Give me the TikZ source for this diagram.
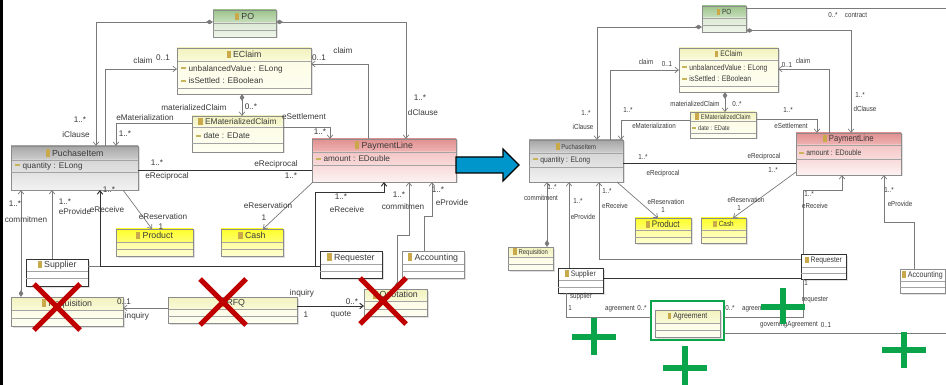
\documentclass[tikz,border=0pt]{standalone}
\usepackage{fontspec}
\setmainfont{Liberation Sans}
\newfontfamily\nfont[FakeStretch=0.85]{Liberation Sans}
\usetikzlibrary{arrows.meta}
\definecolor{txt}{HTML}{3A3A3A}
\definecolor{lc}{HTML}{7A7A7A}
\definecolor{dk}{HTML}{333333}
\definecolor{fr}{HTML}{8C8C8C}
\definecolor{iconc}{HTML}{C9A94A}
\definecolor{attrc}{HTML}{C8B45A}
\definecolor{grntop}{HTML}{9DC48C}\definecolor{grnmid}{HTML}{C9DFBE}
\definecolor{grnbot}{HTML}{DCEAD4}\definecolor{grnend}{HTML}{EEF5EA}
\definecolor{pyltop}{HTML}{F2F2C0}\definecolor{pylmid}{HTML}{FAFAD8}
\definecolor{pylbot}{HTML}{FCFCE6}\definecolor{pylend}{HTML}{FEFEF2}
\definecolor{yeltop}{HTML}{FFFF2A}\definecolor{yelmid}{HTML}{FFFF70}
\definecolor{yelbot}{HTML}{FFFF9E}\definecolor{yelend}{HTML}{FFFFD2}
\definecolor{grytop}{HTML}{A6A6A6}\definecolor{grymid}{HTML}{CFCFCF}
\definecolor{grybot}{HTML}{D6D6D6}\definecolor{gryend}{HTML}{F2F2F2}
\definecolor{redtop}{HTML}{E09090}\definecolor{redmid}{HTML}{F0B4B4}
\definecolor{redbot}{HTML}{F4C6C6}\definecolor{redend}{HTML}{FDF2F2}
\definecolor{whttop}{HTML}{FFFFFF}\definecolor{whtmid}{HTML}{FFFFFF}
\definecolor{whtbot}{HTML}{FFFFFF}\definecolor{whtend}{HTML}{FFFFFF}
\definecolor{whgtop}{HTML}{FFFFFF}\definecolor{whgmid}{HTML}{FFFFFF}
\definecolor{whgbot}{HTML}{FFFFFF}\definecolor{whgend}{HTML}{FFFFFF}
\definecolor{blueA}{HTML}{0096CC}
\definecolor{redx}{HTML}{C00000}
\definecolor{grnp}{HTML}{0AA54A}
\newcommand\fs[1]{\fontsize{#1}{#1}\selectfont}
\newcommand\cico{\textcolor{iconc}{\rule[-0.1em]{0.5em}{0.9em}}\hspace{0.25em}}
\newcommand\aico{\textcolor{attrc}{\rule[0.22em]{0.6em}{0.3em}}\hspace{0.3em}}
\tikzset{
 frm/.style={draw=fr, line width=0.7, outer sep=0, inner sep=0},
 grnframe/.style={frm}, pylframe/.style={frm}, yelframe/.style={frm},
 gryframe/.style={frm}, redframe/.style={frm}, whgframe/.style={frm},
 whtframe/.style={frm, draw=dk, line width=0.9},
 dvd/.style={draw=fr!80, line width=0.5},
 shd/.style={fill=black!12},
 ttl/.style={inner sep=0, text=txt},
 att/.style={inner sep=0, text=txt, anchor=west},
 lbl/.style={inner sep=0, text=txt},
 gc/.style={draw=lc, line width=0.7},
 bc/.style={draw=dk, line width=0.95},
 ar/.style={-{Straight Barb[length=3.5pt,width=5.5pt]}},
 dar/.style={{Diamond[length=7pt,width=4.5pt]}-{Straight Barb[length=3.5pt,width=5.5pt]}},
 xx/.style={draw=redx, line width=5},
 pl/.style={draw=grnp, line width=6},
}
\newcommand\umlclass[8]{%
 \fill[shd] ({#3+1.5},{#4+1.5}) rectangle ({#5+1.5},{#6+1.5});
 \shade[top color=#2top, bottom color=#2mid] (#3,#4) rectangle (#5,#7);
 \shade[top color=#2bot, bottom color=#2end] (#3,#7) rectangle (#5,#6);
 \draw[dvd] (#3,#7) -- (#5,#7);
 \node[#2frame, anchor=north west, minimum width=#5-#3, minimum height=#6-#4] (#1) at (#3,#4) {};
 \node[ttl] (#1t) at ({(#3+#5)/2},{(#4+#7)/2}) {\cico #8};
}
\newcommand\dv[3]{\draw[dvd] (#1,#3) -- (#2,#3);}
\newcommand\att[4]{\node[att] (#1) at (#2,#3) {\aico #4};}
\newcommand\lb[4]{\node[lbl] (#1) at (#2,#3) {#4};}
\begin{document}
\begin{tikzpicture}[x=1pt,y=-1pt]
\useasboundingbox (0,0) rectangle (946,385);
\fill[white] (0,0) rectangle (946,385);
\draw[line width=3] (1.5,0) -- (1.5,385);
% ================= LEFT =================
\begin{scope}[ttl/.append style={font=\fs{8.8}}, att/.append style={font=\fs{8.2}}, lbl/.append style={font=\fs{8.2}}]
\umlclass{po}{grn}{213}{10}{276}{37}{23}{PO}\dv{213}{276}{30}
\umlclass{ecl}{pyl}{177}{48}{311}{94}{61}{EClaim}\dv{177}{311}{88}
\att{a1}{181}{69}{unbalancedValue : ELong}
\att{a2}{181}{81}{isSettled : EBoolean}
\umlclass{emc}{pyl}{192}{116}{283}{152}{127}{\fs{8.3}EMaterializedClaim}\dv{192}{283}{143}
\att{a3}{196}{136}{date : EDate}
\umlclass{pi}{gry}{11}{146}{138}{190}{160}{PuchaseItem}\dv{11}{138}{172}
\att{a4}{15}{166}{quantity : ELong}
\umlclass{pl}{red}{312}{139}{456}{182}{152}{PaymentLine}\dv{312}{456}{165}
\att{a5}{316}{159}{amount : EDouble}
\umlclass{prd}{yel}{116}{229}{193}{256}{242}{Product}\dv{116}{193}{249}
\umlclass{csh}{yel}{221}{229}{283}{256}{242}{Cash}\dv{221}{283}{249}
\umlclass{sup}{wht}{26}{259}{88}{286}{271}{Supplier}\dv{26}{88}{278}
\umlclass{req}{wht}{320}{251}{382}{278}{264}{Requester}\dv{320}{382}{271}
\umlclass{acc}{whg}{402}{251}{464}{278}{264}{Accounting}\dv{402}{464}{271}
\umlclass{rqs}{pyl}{11}{297}{123}{326}{310}{Requisition}\dv{11}{123}{318}
\umlclass{rfq}{pyl}{168}{297}{297}{323}{309}{RFQ}\dv{168}{297}{316}
\umlclass{quo}{pyl}{364}{289}{427}{316}{301}{Quotation}\dv{364}{427}{309}
\coordinate (jl) at (315,266);
\draw[gc,dar] (po.west |- 0,22) -- (96,22) -- (pi.north -| 96,0);
\draw[gc,dar] (po.east |- 0,22) -- (406,22) -- (pl.north -| 406,0);
\draw[gc,ar] (pi.north -| 105,0) -- (105,69) -- (ecl.west |- 0,69);
\draw[gc,ar] (pl.north -| 368,0) -- (368,64) -- (ecl.east |- 0,64);
\draw[gc,dar] (ecl.south -| 242,0) -- (emc.north -| 242,0);
\draw[gc,ar] (emc.west |- 0,123) -- (116,123) -- (pi.north -| 116,0);
\draw[gc,ar] (emc.east |- 0,127) -- (330,127) -- (pl.north -| 330,0);
\draw[bc] (pi.east |- 0,170) -- (pl.west |- 0,170);
\draw[gc,ar] (pi.south -| 123,0) -- (prd.north -| 152,0);
\draw[gc,ar] (pl.south -| 313,0) -- (csh.north -| 263,0);
\draw[gc,dar] (rqs.north -| 21,0) -- (pi.south -| 21,0);
\draw[gc,ar] (sup.north -| 52,0) -- (pi.south -| 52,0);
\draw[gc] (sup.east |- 0,266) -- (100,266);
\draw[bc,ar] (req.west |- 0,266) -- (100,266) -- (pi.south -| 100,0);
\draw[bc,ar] (jl) -- (315,192) -- (384,192) -- (pl.south -| 384,0);
\draw[gc,dar] (quo.north -| 397,0) -- (397,235) -- (409,235) -- (pl.south -| 409,0);
\draw[gc,ar] (acc.north -| 424,0) -- (424,216) -- (432,216) -- (pl.south -| 432,0);
\draw[gc,ar] (rfq.west |- 0,308) -- (rqs.east |- 0,308);
\draw[bc,ar] (rfq.east |- 0,306) -- (quo.west |- 0,306);
\lb{L1}{80}{120}{1..*}\lb{L2}{76}{135}{iClause}
\lb{L3}{420}{98}{1..*}\lb{L4}{423}{113}{dClause}
\lb{L5}{143}{61}{claim}\lb{L6}{163}{58}{0..1}
\lb{L7}{319}{58}{0..1}\lb{L8}{343}{51}{claim}
\lb{L9}{194}{108}{materializedClaim}\lb{L10}{251}{107}{0..*}
\lb{L11}{145}{118}{eMaterialization}\lb{L12}{125}{134}{1..*}
\lb{L13}{304}{117}{eSettlement}\lb{L14}{320}{132}{1..*}
\lb{L15}{157}{163}{1..*}\lb{L16}{167}{176}{eReciprocal}
\lb{L17}{276}{164}{eReciprocal}\lb{L18}{291}{176}{1..*}
\lb{L19}{163}{217}{eReservation}\lb{L20}{161}{226.5}{1}
\lb{L21}{268}{206}{eReservation}\lb{L22}{264}{218}{1}
\lb{L23}{15}{204}{1..*}\lb{L24}{26}{220}{commitmen}
\lb{L25}{65}{202}{1..*}\lb{L26}{75}{212}{eProvide}
\lb{L27}{109}{190}{1..*}\lb{L28}{107}{210}{eReceive}
\lb{L29}{341}{197}{1..*}\lb{L30}{347}{210}{eReceive}
\lb{L31}{399}{195}{1..*}\lb{L32}{403}{207}{commitmen}
\lb{L33}{438}{190}{1..*}\lb{L34}{452}{203}{eProvide}
\lb{L35}{124}{302}{0..1}\lb{L36}{137}{316}{inquiry}
\lb{L37}{302}{293}{inquiry}\lb{L38}{306}{315}{1}
\lb{L39}{352}{302}{0..*}\lb{L40}{341}{315}{quote}
\draw[xx] (34,284) -- (80,330) (80,284) -- (34,330);
\draw[xx] (200,279) -- (246,325) (246,279) -- (200,325);
\draw[xx] (360,278) -- (406,324) (406,278) -- (360,324);
\end{scope}
% blue arrow
\draw[fill=blueA, draw=black, line width=1.2] (456,157) -- (503,157) -- (503,149) -- (519,165) -- (503,181) -- (503,173) -- (456,173) -- cycle;
% ================= RIGHT =================
\begin{scope}[ttl/.append style={font={\nfont\fs{7.5}}}, att/.append style={font={\nfont\fs{8}}}, lbl/.append style={font={\nfont\fs{7.3}}}]
\umlclass{poR}{grn}{702}{6}{746}{32}{18}{PO}\dv{702}{746}{25}
\umlclass{eclR}{pyl}{679}{48}{778}{92}{60}{\fs{8}EClaim}\dv{679}{778}{86}
\att{b1}{682}{68}{unbalancedValue : ELong}
\att{b2}{682}{79}{isSettled : EBoolean}
\umlclass{emcR}{pyl}{690}{112}{756}{138}{121}{\fs{6.8}EMaterializedClaim}\dv{690}{756}{133}
\node[att, font={\nfont\fs{6.6}}] (b3) at (692,128) {\aico date : EDate};
\umlclass{piR}{gry}{529}{140}{623}{182}{153}{\fs{7}PuchaseItem}\dv{529}{623}{167}
\att{b4}{533}{160}{quantity : ELong}
\umlclass{plR}{red}{796}{133}{901}{175}{145}{\fs{9}PaymentLine}\dv{796}{901}{159}
\att{b5}{799}{153}{amount : EDouble}
\umlclass{prdR}{yel}{635}{218}{691}{243}{230}{\fs{9.5}Product}\dv{635}{691}{237}
\umlclass{cshR}{yel}{701}{218}{746}{243}{230}{Cash}\dv{701}{746}{237}
\umlclass{rqsR}{pyl}{508}{247}{553}{270}{257}{\fs{7}Requisition}\dv{508}{553}{264}
\umlclass{supR}{wht}{558}{268}{603}{293}{280}{\fs{8}Supplier}\dv{558}{603}{287}
\umlclass{reqR}{wht}{801}{254}{846}{279}{267}{\fs{8}Requester}\dv{801}{846}{273}
\umlclass{accR}{whg}{900}{269}{945}{293}{281}{\fs{8.3}Accounting}\dv{900}{945}{287}
\umlclass{agrR}{pyl}{655}{310}{720}{337}{323}{\fs{8.2}Agreement}\dv{655}{720}{330}
\node[draw=grnp, line width=2.2, anchor=north west, minimum width=73, minimum height=39, inner sep=0, outer sep=0] (agrF) at (651,301) {};
\coordinate (ctr) at (946,8);
\coordinate (gov) at (946,333);
\draw[gc,dar] (poR.west |- 0,27) -- (597,27) -- (piR.north -| 597,0);
\draw[gc,dar] (poR.east |- 0,30.5) -- (851,30.5) -- (plR.north -| 851,0);
\draw[gc] (poR.east |- 0,8) -- (ctr);
\draw[gc,ar] (piR.north -| 610,0) -- (610,70) -- (eclR.west |- 0,70);
\draw[gc,ar] (plR.north -| 829,0) -- (829,69) -- (eclR.east |- 0,69);
\draw[gc,dar] (eclR.south -| 725,0) -- (emcR.north -| 725,0);
\draw[gc,ar] (emcR.west |- 0,120) -- (621,120) -- (piR.north -| 621,0);
\draw[gc,ar] (emcR.east |- 0,119) -- (817,119) -- (plR.north -| 817,0);
\draw[bc] (piR.east |- 0,163) -- (plR.west |- 0,163);
\draw[gc,ar] (piR.south -| 617,0) -- (prdR.north -| 658,0);
\draw[gc,ar] (plR.west |- 0,172) -- (cshR.north -| 733,0);
\draw[gc,dar] (rqsR.north -| 547,0) -- (piR.south -| 547,0);
\draw[gc,ar] (supR.north -| 569,0) -- (piR.south -| 569,0);
\draw[gc,ar] (reqR.west |- 0,259) -- (599,259) -- (piR.south -| 599,0);
\draw[gc, draw=dk] (supR.east |- 0,278) -- (reqR.west |- 0,278);
\draw[gc,ar] (reqR.north -| 803,0) -- (803,190) -- (842,190) -- (plR.south -| 842,0);
\draw[gc,ar] (accR.north -| 914,0) -- (914,222) -- (884,222) -- (plR.south -| 884,0);
\draw[gc] (supR.south -| 566,0) -- (566,317) -- (agrF.west |- 0,317);
\draw[gc] (reqR.south -| 803,0) -- (803,317) -- (agrF.east |- 0,317);
\draw[gc] (agrF.east |- 0,333) -- (gov);
\lb{R1}{586}{113}{1..*}\lb{R2}{583}{127}{iClause}
\lb{R3}{860}{95}{1..*}\lb{R4}{865}{109}{dClause}
\lb{R5}{833}{15}{0..*}\lb{R6}{856}{15}{contract}
\lb{R7}{646}{62}{claim}\lb{R8}{667}{64}{0..1}
\lb{R9}{787}{65}{0..1}\lb{R10}{803}{61}{claim}
\lb{R11}{695}{104}{materializedClaim}\lb{R12}{737}{104}{0..*}
\lb{R13}{628}{110}{1..*}\lb{R14}{654}{126}{eMaterialization}
\lb{R15}{788}{110}{1..*}\lb{R16}{791}{126}{eSettlement}
\lb{R17}{643}{157}{1..*}\lb{R18}{764}{157}{eReciprocal}
\lb{R19}{773}{170}{1..*}\lb{R20}{663}{174}{eReciprocal}
\lb{R21}{666}{202}{eReservation}\lb{R22}{663}{210}{1}
\lb{R23}{746}{200}{eReservation}\lb{R24}{739}{208}{1}
\lb{R25}{552}{187}{1..*}\lb{R26}{541}{198}{commitment}
\lb{R27}{578}{201}{1..*}\lb{R28}{583}{217}{eProvide}
\lb{R29}{607}{191}{1..*}\lb{R30}{615}{206}{eReceive}
\lb{R31}{809}{194}{1..*}\lb{R32}{815}{206}{eReceive}
\lb{R33}{889}{190}{1..*}\lb{R34}{900}{204}{eProvide}
\lb{R35}{581}{297}{supplier}\lb{R36}{570}{308}{1}
\lb{R37}{620}{309}{agreement}\lb{R38}{642}{308}{0..*}
\lb{R39}{806}{283}{1}\lb{R40}{815}{300}{requester}
\lb{R41}{730}{308}{0..*}\lb{R42}{757}{309}{agreement}
\lb{R43}{789}{325}{governingAgreement}\lb{R44}{826}{325}{0..1}
\draw[pl] (572,337) -- (616,337) (594,318) -- (594,355);
\draw[pl] (663,368) -- (707,368) (685,346) -- (685,385);
\draw[pl] (761,307) -- (805,307) (783,288) -- (783,324);
\draw[pl] (882,350) -- (926,350) (904,332) -- (904,368);
\end{scope}
\end{tikzpicture}
\end{document}
